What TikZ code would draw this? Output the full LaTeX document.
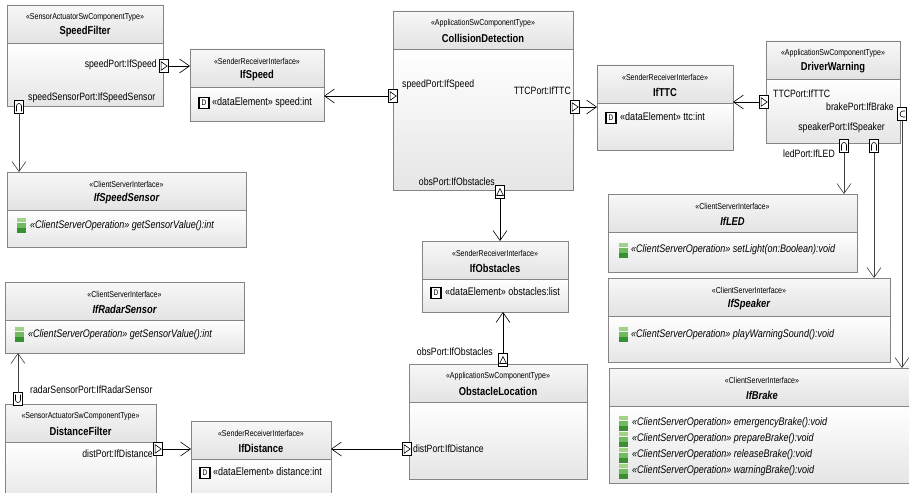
\documentclass[tikz,border=0pt]{standalone}
\usepackage{fontspec}
\setmainfont{Liberation Sans}[FakeStretch=0.82]
\usetikzlibrary{arrows.meta}
\definecolor{opgA}{RGB}{160,210,140}
\definecolor{opgB}{RGB}{115,185,95}
\definecolor{opgC}{RGB}{55,145,50}
\tikzset{
  frame/.style={inner sep=0pt, outer sep=0pt},
  boxline/.style={draw=black!48, line width=0.9pt},
  stereo/.style={font=\fontsize{8.6}{9}\selectfont, inner sep=0pt},
  titleB/.style={font=\fontsize{11.4}{13}\selectfont\bfseries, inner sep=0pt},
  titleI/.style={font=\fontsize{11.4}{13}\selectfont\bfseries\itshape, inner sep=0pt},
  plabel/.style={font=\fontsize{10.6}{12}\selectfont, inner sep=0pt},
  rowtext/.style={font=\fontsize{11}{12}\selectfont, inner sep=0pt, anchor=mid west},
  optext/.style={font=\fontsize{11}{12}\selectfont\itshape, inner sep=0pt, anchor=mid west},
  dbox/.style={draw=black, line width=1.3pt, fill=white, minimum width=10pt, minimum height=11pt, inner sep=0pt, font=\fontsize{8}{8}\selectfont},
  port/.style={draw=black, fill=white, line width=0.6pt, minimum width=9pt, minimum height=13pt, inner sep=0pt, outer sep=0pt},
  portR/.style={port, path picture={\draw[line width=0.6pt] ([shift={(1.6pt,-2.2pt)}]path picture bounding box.north west) -- ([xshift=-1.3pt]path picture bounding box.east) -- ([shift={(1.6pt,2.2pt)}]path picture bounding box.south west) -- cycle;}},
  portU/.style={port, path picture={\draw[line width=0.6pt] ([shift={(1.2pt,3pt)}]path picture bounding box.south west) -- ([yshift=-3pt]path picture bounding box.north) -- ([shift={(-1.2pt,3pt)}]path picture bounding box.south east) -- cycle;}},
  portCap/.style={port, path picture={\draw[line width=0.6pt] ([shift={(2pt,2pt)}]path picture bounding box.south west) -- ++(0pt,5.5pt) arc[start angle=180, end angle=0, radius=2.5pt] -- ++(0pt,-5.5pt);}},
  portCup/.style={port, path picture={\draw[line width=0.6pt] ([shift={(2pt,-2pt)}]path picture bounding box.north west) -- ++(0pt,-5.5pt) arc[start angle=180, end angle=360, radius=2.5pt] -- ++(0pt,5.5pt);}},
  portC/.style={port, path picture={\draw[line width=0.6pt] ([shift={(-1.5pt,-3.5pt)}]path picture bounding box.north east) -- ++(-2pt,0pt) arc[start angle=90, end angle=270, radius=3pt] -- ++(2pt,0pt);}},
  srconn/.style={draw=black, line width=0.6pt, -{Straight Barb[length=10pt, width=14pt, line width=0.6pt]}},
  csconn/.style={draw=black!75, line width=0.7pt, -{Straight Barb[length=10pt, width=14pt, line width=0.6pt]}},
}
\newcommand\umlbox[8]{%
  \node[frame, minimum width=#4pt, minimum height=#5pt, anchor=north west] (#1) at (#2,#3) {};
  \shade[top color=white, bottom color=black!10] ([yshift=-38pt]#1.north west) rectangle (#1.south east);
  \shade[top color=black!3, bottom color=black!11] (#1.north west) rectangle ([yshift=-38pt]#1.north east);
  \draw[boxline] (#1.north west) rectangle (#1.south east);
  \draw[boxline] ([yshift=-38pt]#1.north west) -- ([yshift=-38pt]#1.north east);
  \node[stereo] (#1-st) at ([yshift=-12pt]#1.north) {«#6»};
  \node[#8] (#1-ti) at ([yshift=-27pt]#1.north) {#7};
}
\newcommand\opicon[3]{%
  \fill[opgA] (#2-4.5,#3-7.5) rectangle (#2+4.5,#3-2.7);
  \fill[opgB] (#2-4.5,#3-2.1) rectangle (#2+4.5,#3+2.5);
  \fill[opgC] (#2-4.5,#3+3.1) rectangle (#2+4.5,#3+7.5);
  \coordinate (#1) at (#2,#3);
}
\begin{document}
\begin{tikzpicture}[x=1pt, y=-1pt]
\useasboundingbox (0,0) rectangle (909,492);
\clip (0,0) rectangle (909,492);
\fill[white] (0,0) rectangle (909,492);

% ---------- boxes ----------
\umlbox{sf}{7}{5}{156}{101}{SensorActuatorSwComponentType}{SpeedFilter}{titleB}
\umlbox{ifspeed}{190}{49}{134}{72}{SenderReceiverInterface}{IfSpeed}{titleB}
\umlbox{cd}{393}{11}{180}{179}{ApplicationSwComponentType}{CollisionDetection}{titleB}
\umlbox{ifttc}{597}{65}{136}{85}{SenderReceiverInterface}{IfTTC}{titleB}
\umlbox{dw}{766}{41}{134}{102}{ApplicationSwComponentType}{DriverWarning}{titleB}
\umlbox{ifss}{7}{172}{239}{75}{ClientServerInterface}{IfSpeedSensor}{titleI}
\umlbox{ifrs}{5}{282}{239}{71}{ClientServerInterface}{IfRadarSensor}{titleI}
\umlbox{df}{5}{404}{151}{100}{SensorActuatorSwComponentType}{DistanceFilter}{titleB}
\umlbox{ifdist}{191}{421}{140}{90}{SenderReceiverInterface}{IfDistance}{titleB}
\umlbox{ifobs}{422}{241}{146}{71}{SenderReceiverInterface}{IfObstacles}{titleB}
\umlbox{ol}{409}{364}{178}{115}{ApplicationSwComponentType}{ObstacleLocation}{titleB}
\umlbox{ifled}{608}{194}{249}{78}{ClientServerInterface}{IfLED}{titleI}
\umlbox{ifspk}{608}{278}{282}{84}{ClientServerInterface}{IfSpeaker}{titleI}
\umlbox{ifbrake}{609}{368}{306}{115}{ClientServerInterface}{IfBrake}{titleI}

% ---------- data elements ----------
\node[dbox] (d1) at (204,103) {D};
\node[rowtext] (r1) at (212,103) {«dataElement» speed:int};
\node[dbox] (d2) at (611,118) {D};
\node[rowtext] (r2) at (620,118) {«dataElement» ttc:int};
\node[dbox] (d3) at (436,293) {D};
\node[rowtext] (r3) at (445,293) {«dataElement» obstacles:list};
\node[dbox] (d4) at (205,473) {D};
\node[rowtext] (r4) at (213,473) {«dataElement» distance:int};

% ---------- operations ----------
\opicon{o1}{21}{225}
\node[optext] (t1) at (30,226) {«ClientServerOperation» getSensorValue():int};
\opicon{o2}{19}{334}
\node[optext] (t2) at (28,335) {«ClientServerOperation» getSensorValue():int};
\opicon{o3}{623}{250}
\node[optext] (t3) at (631,250) {«ClientServerOperation» setLight(on:Boolean):void};
\opicon{o4}{623}{334}
\node[optext] (t4) at (631,335) {«ClientServerOperation» playWarningSound():void};
\opicon{o5}{623}{423}
\node[optext] (t5) at (632,423) {«ClientServerOperation» emergencyBrake():void};
\opicon{o6}{623}{439}
\node[optext] (t6) at (632,439) {«ClientServerOperation» prepareBrake():void};
\opicon{o7}{623}{455}
\node[optext] (t7) at (632,455) {«ClientServerOperation» releaseBrake():void};
\opicon{o8}{623}{471}
\node[optext] (t8) at (632,471) {«ClientServerOperation» warningBrake():void};

% ---------- port labels ----------
\node[plabel, anchor=mid east] (l1) at (157,65) {speedPort:IfSpeed};
\node[plabel, anchor=mid west] (l2) at (28,98) {speedSensorPort:IfSpeedSensor};
\node[plabel, anchor=mid west] (l3) at (402,85) {speedPort:IfSpeed};
\node[plabel, anchor=mid east] (l4) at (571,92) {TTCPort:IfTTC};
\node[plabel, anchor=mid east] (l5) at (495,183) {obsPort:IfObstacles};
\node[plabel, anchor=mid west] (l6) at (773,95) {TTCPort:IfTTC};
\node[plabel, anchor=mid east] (l7) at (894,108) {brakePort:IfBrake};
\node[plabel, anchor=mid east] (l8) at (885,128) {speakerPort:IfSpeaker};
\node[plabel, anchor=mid east] (l9) at (835,155) {ledPort:IfLED};
\node[plabel, anchor=mid west] (l10) at (30,391) {radarSensorPort:IfRadarSensor};
\node[plabel, anchor=mid east] (l11) at (153,455) {distPort:IfDistance};
\node[plabel, anchor=mid east] (l12) at (493,353) {obsPort:IfObstacles};
\node[plabel, anchor=mid west] (l13) at (413,450) {distPort:IfDistance};

% ---------- ports ----------
\node[portR] (sfSpeed) at (164,66) {};
\node[portCap] (sfSensor) at (19,107) {};
\node[portR] (cdSpeed) at (393,96) {};
\node[portR] (cdTTC) at (575,107) {};
\node[portU] (cdObs) at (500,192) {};
\node[portR] (dwTTC) at (764,102) {};
\node[portC] (dwBrake) at (902,114) {};
\node[portCap] (dwLed) at (844,146) {};
\node[portCap] (dwSpk) at (874,146) {};
\node[portCup] (dfRadar) at (18,399) {};
\node[portR] (dfDist) at (158,449) {};
\node[portU] (olObs) at (503,360) {};
\node[portR] (olDist) at (407,449) {};

% ---------- connectors ----------
\draw[srconn] (sfSpeed.east) -- (sfSpeed.east -| ifspeed.west);
\draw[srconn] (cdSpeed.west) -- (cdSpeed.west -| ifspeed.east);
\draw[srconn] (cdTTC.east) -- (cdTTC.east -| ifttc.west);
\draw[srconn] (dwTTC.west) -- (dwTTC.west -| ifttc.east);
\draw[csconn] (sfSensor.south) -- (sfSensor.south |- ifss.north);
\draw[srconn] (cdObs.south) -- (cdObs.south |- ifobs.north);
\draw[srconn] (olObs.north) -- (olObs.north |- ifobs.south);
\draw[csconn] (dfRadar.north) -- (dfRadar.north |- ifrs.south);
\draw[srconn] (dfDist.east) -- (dfDist.east -| ifdist.west);
\draw[srconn] (olDist.west) -- (olDist.west -| ifdist.east);
\draw[csconn] (dwLed.south) -- (dwLed.south |- ifled.north);
\draw[csconn] (dwSpk.south) -- (dwSpk.south |- ifspk.north);
\draw[csconn] (dwBrake.south) -- (dwBrake.south |- ifbrake.north);
\end{tikzpicture}
\end{document}
